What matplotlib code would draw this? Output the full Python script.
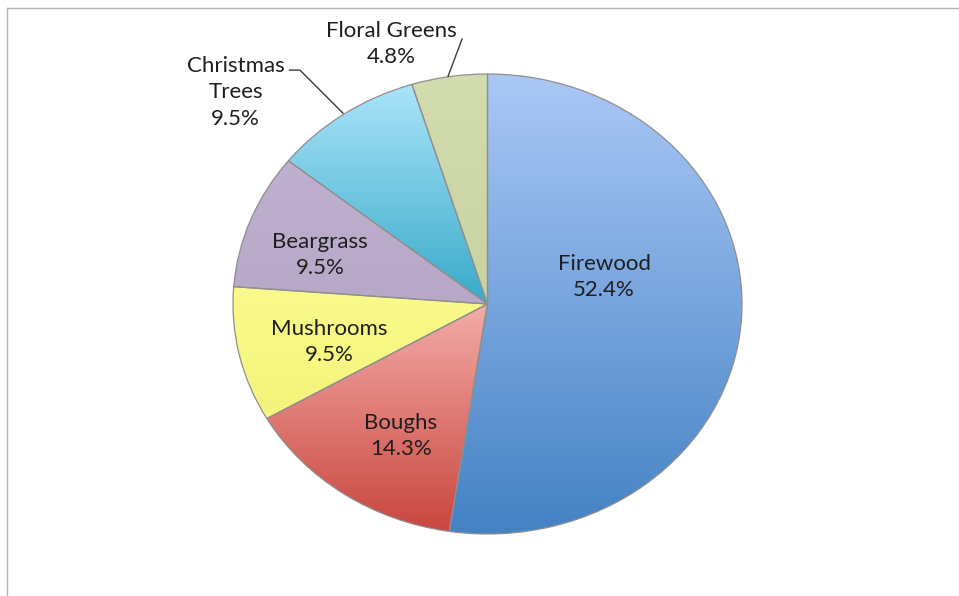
import numpy as np
import matplotlib
matplotlib.use("Agg")
import matplotlib.pyplot as plt
from matplotlib.colors import LinearSegmentedColormap
from matplotlib.lines import Line2D

plt.rcParams['font.family'] = ['Lato', 'DejaVu Sans']

# product share (%)
labels = ['Firewood', 'Boughs', 'Mushrooms', 'Beargrass', 'Christmas\nTrees', 'Floral Greens']
shares = [52.4, 14.3, 9.5, 9.5, 9.5, 4.8]

# top / bottom colours of each slice's vertical gradient
top_colors = ['#aac8f6', '#f4aca8', '#fafa8c', '#c0b0d0', '#aae4fa', '#d2dcae']
bottom_colors = ['#4482c4', '#c9463f', '#f4f47a', '#b8a8c8', '#38aac8', '#c8d2a2']

# label positions in pie units (x, y), plus leader lines for outside labels
label_pos = [(0.458, 0.117), (-0.34, -0.574), (-0.623, -0.165),
             (-0.658, 0.213), (-0.99, 0.92), (-0.379, 1.13)]
leaders = {4: [(-0.778, 1.017), (-0.737, 1.017), (-0.568, 0.83)],
           5: [(-0.1, 1.152), (-0.155, 0.99)]}

fig = plt.figure(figsize=(9.59, 5.96), dpi=100)

# thin chart-area frame along the top and left edge
fig.add_artist(Line2D([7 / 959, 1.0], [1 - 8 / 596, 1 - 8 / 596],
                      color='#b4b4b4', lw=1.0))
fig.add_artist(Line2D([7 / 959, 7 / 959], [0.0, 1 - 8 / 596],
                      color='#b4b4b4', lw=1.0))

ax = fig.add_axes([233 / 959, 62 / 596, 509 / 959, 460 / 596])
wedges, _ = ax.pie(shares, startangle=90, counterclock=False, radius=1.0,
                   wedgeprops=dict(edgecolor='#8f8f8f', linewidth=0.9))

grad = np.linspace(0, 1, 256).reshape(-1, 1)
for i, w in enumerate(wedges):
    w.set_facecolor('none')
    w.set_zorder(2)
    ext = w.get_path().get_extents()
    cmap = LinearSegmentedColormap.from_list(f'g{i}', [top_colors[i], bottom_colors[i]])
    im = ax.imshow(grad, cmap=cmap, aspect='auto', interpolation='bilinear',
                   extent=[ext.x0, ext.x1, ext.y0, ext.y1], origin='upper', zorder=1)
    im.set_clip_path(w)

for i, (x, y) in enumerate(label_pos):
    ax.text(x, y, f'{labels[i]}\n{shares[i]:.1f}%', ha='center', va='center',
            fontsize=16, color='#1e1e1e', linespacing=1.4)

for pts in leaders.values():
    xs, ys = zip(*pts)
    ax.plot(xs, ys, color='#3c3c3c', lw=1.0, clip_on=False, zorder=3)

ax.set_xlim(-1, 1)
ax.set_ylim(-1, 1)
ax.set_aspect('auto')
ax.axis('off')

fig.savefig('out.png', dpi=100, facecolor='white')
